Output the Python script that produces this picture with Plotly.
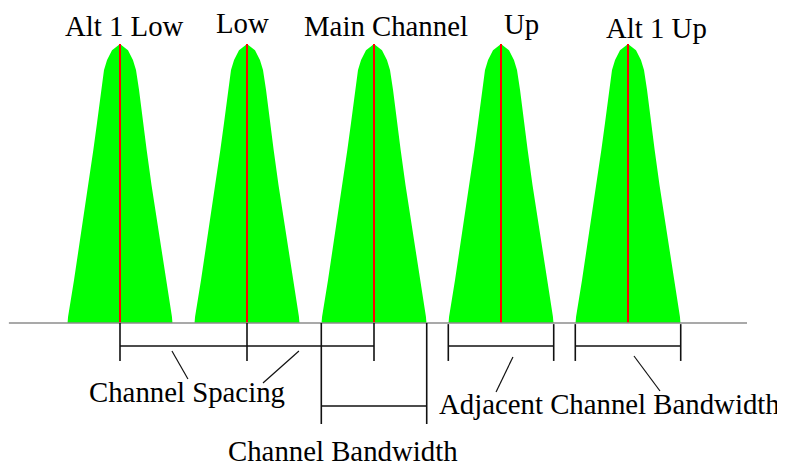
import plotly.graph_objects as go

# ---- data (channel units: spacing = 1, level: baseline 0 .. peak 1) ----
channel_names = ["Alt 1 Low", "Low", "Main Channel", "Up", "Alt 1 Up"]
channel_centers = [-2, -1, 0, 1, 2]
channel_bandwidth = 0.83
# spectrum half-shape profile: level vs offset from centre
profile_level = [0.0, 0.022, 0.154, 0.272, 0.394, 0.495, 0.620, 0.717, 0.835, 0.907, 0.943, 0.978, 1.0]
profile_offset = [0.413, 0.409, 0.362, 0.323, 0.283, 0.248, 0.210, 0.181, 0.150, 0.126, 0.102, 0.063, 0.0]

label_x = [-1.965, -1.035, 0.095, 1.165, 2.228]
label_y = [1.063, 1.074, 1.063, 1.071, 1.059]

FONT = "Liberation Serif"
FSIZE = 28.8
fig = go.Figure()

# green spectra
for c in channel_centers:
    xs = [c - o for o in profile_offset] + [c + o for o in reversed(profile_offset)]
    ys = profile_level + list(reversed(profile_level))
    fig.add_trace(go.Scatter(x=xs, y=ys, fill="toself", fillcolor="#00ff00",
                             mode="lines", line=dict(width=0, color="#00ff00"),
                             hoverinfo="skip", showlegend=False))
# red centre lines
for c in channel_centers:
    fig.add_trace(go.Scatter(x=[c, c], y=[0, 1], mode="lines",
                             line=dict(color="#ff0000", width=2),
                             hoverinfo="skip", showlegend=False))

def seg(x0, y0, x1, y1, color="#111111", width=1.6):
    fig.add_shape(type="line", x0=x0, y0=y0, x1=x1, y1=y1, xref="x", yref="y",
                  line=dict(color=color, width=width))

# baseline
fig.add_shape(type="line", x0=-2.875, y0=0, x1=2.937, y1=0, xref="x", yref="y",
              line=dict(color="#8c8c8c", width=1.6))

hb = channel_bandwidth / 2
tick_low = -0.136
bar_y = -0.0824
# channel spacing bracket (Alt1 Low -> Main, tick at Low)
for c in channel_centers[:3]:
    seg(c, 0, c, tick_low)
seg(channel_centers[0], bar_y, channel_centers[2], bar_y)
# channel bandwidth bracket (main channel)
cb_low = -0.362
cb_bar = -0.2975
seg(channel_centers[2] - hb, 0, channel_centers[2] - hb, cb_low)
seg(channel_centers[2] + hb, 0, channel_centers[2] + hb, cb_low)
seg(channel_centers[2] - hb, cb_bar, channel_centers[2] + hb, cb_bar)
# adjacent channel bandwidth brackets
for c in channel_centers[3:]:
    seg(c - hb, -0.004, c - hb, tick_low)
    seg(c + hb, -0.004, c + hb, tick_low)
    seg(c - hb, bar_y, c + hb, bar_y)

# leader lines
seg(-1.591, -0.1004, -1.465, -0.2007, width=1.2)
seg(-0.591, -0.1004, -0.874, -0.215, width=1.2)
seg(1.094, -0.1219, 0.961, -0.2473, width=1.2)
seg(2.047, -0.1183, 2.252, -0.2437, width=1.2)

# labels
for name, x, y in zip(channel_names, label_x, label_y):
    fig.add_annotation(x=x, y=y, text=name, showarrow=False, xref="x", yref="y",
                       xanchor="center", yanchor="middle", borderpad=0,
                       font=dict(family=FONT, size=FSIZE, color="black"))
for text, x, y in [("Channel Spacing", -1.469, -0.249),
                   ("Channel Bandwidth", -0.248, -0.459),
                   ("Adjacent Channel Bandwidth", 1.858, -0.292)]:
    fig.add_annotation(x=x, y=y, text=text, showarrow=False, xref="x", yref="y",
                       xanchor="center", yanchor="middle", borderpad=0,
                       font=dict(family=FONT, size=FSIZE, color="black"))

# page body has an 8px margin: figure is 777x458, placed at (8, 8)
fig.update_layout(
    width=777, height=458, margin=dict(l=0, r=0, t=0, b=0),
    paper_bgcolor="white", plot_bgcolor="white", showlegend=False,
    xaxis=dict(range=[-366 / 127, 411 / 127], visible=False, fixedrange=True),
    yaxis=dict(range=[-143 / 279, 315 / 279], visible=False, fixedrange=True),
)
fig.write_html("out.html")
